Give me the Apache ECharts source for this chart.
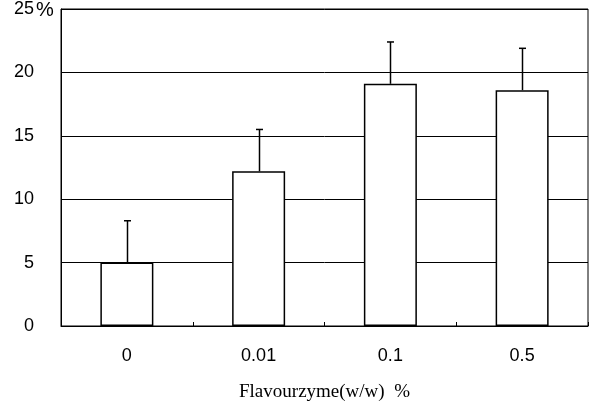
<!DOCTYPE html>
<html>
<head>
<meta charset="utf-8">
<script src="https://cdn.jsdelivr.net/npm/echarts@6/dist/echarts.min.js"></script>
<style>
  html, body { margin: 0; padding: 0; background: #fff; }
  #chart { width: 593px; height: 407px; }
</style>
</head>
<body>
<div id="chart"></div>
<script>
const categories = ['0', '0.01', '0.1', '0.5'];
const values = [5.0, 12.2, 19.1, 18.6];
// upper end of each error bar
const errTops = [8.3, 15.5, 22.4, 21.9];
const yTicks = [0, 5, 10, 15, 20, 25];

const myChart = echarts.init(document.getElementById('chart'));

const option = {
  animation: false,
  backgroundColor: '#fff',
  grid: {
    left: 61,
    right: 5,
    top: 8,
    bottom: 79,
    show: true,
    borderColor: '#000',
    borderWidth: 1
  },
  xAxis: {
    type: 'category',
    data: categories,
    name: 'Flavourzyme(w/w)  %',
    nameLocation: 'middle',
    nameGap: 57,
    nameTextStyle: {
      color: '#000',
      fontFamily: 'Liberation Serif',
      fontSize: 19,
      verticalAlign: 'top'
    },
    axisLine: { show: true, lineStyle: { color: '#000', width: 1 } },
    axisTick: { show: true, inside: true, length: 4, lineStyle: { color: '#000' } },
    axisLabel: {
      color: '#000',
      fontFamily: 'Liberation Sans',
      fontSize: 18,
      margin: 21
    },
    splitLine: { show: false }
  },
  yAxis: {
    type: 'value',
    min: 0,
    max: 25,
    interval: 5,
    axisLine: { show: true, lineStyle: { color: '#000', width: 1 } },
    axisTick: { show: false },
    axisLabel: {
      color: '#000',
      fontFamily: 'Liberation Sans',
      fontSize: 18,
      margin: 27,
      formatter: v => yTicks.includes(v) ? String(v) : ''
    },
    splitLine: { show: true, lineStyle: { color: '#000', width: 1 } }
  },
  graphic: [{
    type: 'text',
    left: 36,
    top: 0,
    style: {
      text: '%',
      fill: '#000',
      font: '20px "Liberation Sans"'
    }
  }],
  series: [
    {
      type: 'bar',
      data: values,
      barWidth: 53,
      itemStyle: { color: '#fff', borderColor: '#000', borderWidth: 1.5 },
      z: 2
    },
    {
      type: 'custom',
      z: 3,
      data: categories.map((c, i) => [i, values[i], errTops[i]]),
      renderItem: function (params, api) {
        const base = api.coord([api.value(0), api.value(1)]);
        const top = api.coord([api.value(0), api.value(2)]);
        const x = Math.round(base[0]) + 0.5;
        const style = { stroke: '#000', lineWidth: 1.5 };
        return {
          type: 'group',
          children: [
            { type: 'line', shape: { x1: x, y1: base[1], x2: x, y2: top[1] }, style: style },
            { type: 'line', shape: { x1: x - 3.5, y1: top[1], x2: x + 3.5, y2: top[1] }, style: style }
          ]
        };
      }
    }
  ]
};

myChart.setOption(option);
</script>
</body>
</html>
